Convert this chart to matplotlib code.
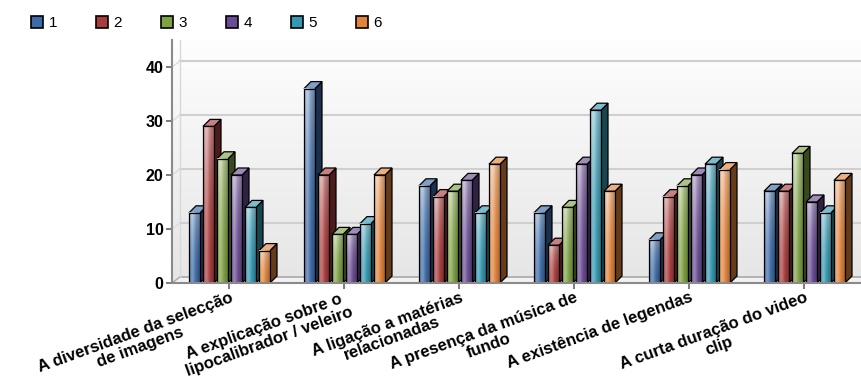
import numpy as np
import matplotlib.pyplot as plt
from matplotlib.patches import Polygon, Rectangle, Patch
from matplotlib.colors import to_rgb

categories = [
    "A diversidade da selecção\nde imagens",
    "A explicação sobre o\nlipocalibrador / veleiro",
    "A ligação a matérias\nrelacionadas",
    "A presença da música de\nfundo",
    "A existência de legendas",
    "A curta duração do video\nclip",
]
series_names = ["1", "2", "3", "4", "5", "6"]
s1 = [13, 36, 18, 13, 8, 17]
s2 = [29, 20, 16, 7, 16, 17]
s3 = [23, 9, 17, 14, 18, 24]
s4 = [20, 9, 19, 22, 20, 15]
s5 = [14, 11, 13, 32, 22, 13]
s6 = [6, 20, 22, 17, 21, 19]
series = [s1, s2, s3, s4, s5, s6]
colors = ["#3c6ba8", "#ab3c3c", "#7fa343", "#6a4c94", "#3499b2", "#e3843a"]
yticks = [0, 10, 20, 30, 40]

W, H = 862, 390
fig = plt.figure(figsize=(W / 100, H / 100), dpi=100)
ax = fig.add_axes([172 / W, 107 / H, 690 / W, 243 / H])
XMAX, YMAX = 6, 45
px_x = 690 / XMAX      # pixels per x unit
px_y = 243 / YMAX      # pixels per y unit

# depth of the box and of each bar, in data units
wall_dx, wall_dy = 8 / px_x, 6 / px_y
bar_dx, bar_dy = 7 / px_x, 7 / px_y
bar_w = 11 / px_x
pitch = 14 / px_x

# back wall gradient
grad = np.linspace(0.90, 0.995, 100).reshape(-1, 1)
ax.imshow(np.dstack([grad] * 3), extent=(0, XMAX, 0, YMAX), origin="lower",
          aspect="auto", zorder=0, interpolation="bilinear")

# floor
ax.add_patch(Polygon([(0, 0), (XMAX, 0), (XMAX, wall_dy), (wall_dx, wall_dy)],
                     closed=True, facecolor="#f2f2f2", edgecolor="none", zorder=1))
ax.plot([wall_dx, XMAX], [wall_dy, wall_dy], color="#a8a8a8", lw=1.2, zorder=1)
ax.plot([0, wall_dx], [0, wall_dy], color="#a8a8a8", lw=1.0, zorder=1)
ax.plot([wall_dx, wall_dx], [wall_dy, YMAX], color="#d8d8d8", lw=1.0, zorder=1)

# grid lines on the back wall
for v in yticks[1:]:
    ax.plot([wall_dx, XMAX], [v + wall_dy, v + wall_dy], color="#cfcfcf", lw=1.5, zorder=1)
    ax.plot([0, wall_dx], [v, v + wall_dy], color="#dcdcdc", lw=1.0, zorder=1)


def front_image(rgb, nx=24, ny=64):
    u = np.linspace(0, 1, nx)[None, :]
    v = np.linspace(0, 1, ny)[:, None]
    light = 0.30 * np.exp(-((u - 0.3) / 0.25) ** 2) + 0.38 * v ** 2
    light = np.clip(light, 0, 0.75)
    dark = 1 - 0.25 * u ** 3
    base = np.array(rgb)[None, None, :]
    img = base + (1 - base) * light[..., None]
    return np.clip(img * dark[..., None], 0, 1)


for j, (vals, col) in enumerate(zip(series, colors)):
    rgb = np.array(to_rgb(col))
    side = rgb * 0.45
    top = rgb + (1 - rgb) * 0.35
    for i, v in enumerate(vals):
        x0 = i + 0.5 + (j - 2.5) * pitch - bar_w / 2
        x1 = x0 + bar_w
        zz = 3 + j * 0.1
        ax.add_patch(Polygon([(x1, 0), (x1 + bar_dx, bar_dy), (x1 + bar_dx, v + bar_dy), (x1, v)],
                             closed=True, facecolor=side, edgecolor="black", lw=0.9, zorder=zz))
        ax.add_patch(Polygon([(x0, v), (x1, v), (x1 + bar_dx, v + bar_dy), (x0 + bar_dx, v + bar_dy)],
                             closed=True, facecolor=top, edgecolor="black", lw=0.9, zorder=zz))
        ax.imshow(front_image(rgb), extent=(x0, x1, 0, v), origin="lower", aspect="auto",
                  zorder=zz + 0.01, interpolation="bilinear")
        ax.add_patch(Rectangle((x0, 0), bar_w, v, facecolor="none", edgecolor="black",
                               lw=0.9, zorder=zz + 0.02))

ax.set_xlim(0, XMAX)
ax.set_ylim(0, YMAX)
for s in ["top", "right"]:
    ax.spines[s].set_visible(False)
for s in ["left", "bottom"]:
    ax.spines[s].set_color("#8a8a8a")
    ax.spines[s].set_linewidth(1.5)
    ax.spines[s].set_zorder(10)

ax.set_yticks(yticks)
ax.set_yticklabels([str(t) for t in yticks], fontsize=11.5, fontweight="bold",
                   family=["Liberation Sans", "DejaVu Sans"])
ax.set_xticks(np.arange(len(categories)) + 0.5)
ax.set_xticklabels(categories, rotation=20, ha="right", va="top", rotation_mode="anchor",
                   fontsize=12, fontweight="bold", multialignment="center", linespacing=1.05,
                   family=["Liberation Sans", "DejaVu Sans"])
ax.tick_params(axis="both", colors="#666666", length=4, width=1.2, labelcolor="black")
ax.tick_params(axis="y", pad=2)
ax.tick_params(axis="x", pad=1)

handles = [Patch(facecolor=c, edgecolor="black", lw=1.2) for c in colors]
fig.legend(handles, series_names, loc="upper left", bbox_to_anchor=(31 / W, 1 - 16 / H),
           ncol=6, frameon=False, handlelength=0.8, handleheight=0.8,
           handletextpad=0.35, columnspacing=2.55, borderpad=0, borderaxespad=0,
           prop={"family": ["Liberation Sans", "DejaVu Sans"], "size": 11})

fig.savefig("out.png", dpi=100)
